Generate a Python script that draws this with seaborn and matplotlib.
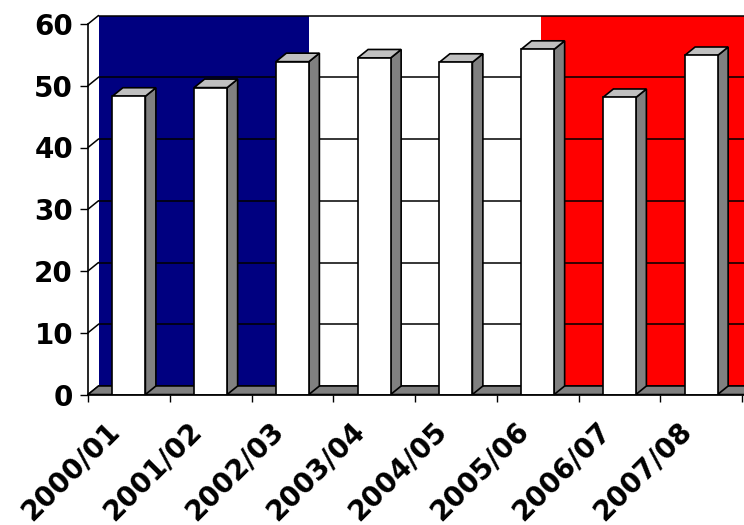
import numpy as np
import pandas as pd
import matplotlib
matplotlib.use("Agg")
import matplotlib.pyplot as plt
import seaborn as sns
from matplotlib.patches import Polygon, Rectangle
from matplotlib.transforms import ScaledTranslation

# ---- data ----
seasons = ["2000/01", "2001/02", "2002/03", "2003/04", "2004/05", "2005/06", "2006/07", "2007/08"]
values = [48.3, 49.7, 53.9, 54.5, 53.8, 55.9, 48.1, 54.9]
y_ticks = [0, 10, 20, 30, 40, 50, 60]

sns.set_theme(style="white")
plt.rcParams['font.family'] = ['DejaVu Sans']
plt.rcParams['font.weight'] = 'bold'
plt.rcParams['text.color'] = 'black'
plt.rcParams['xtick.color'] = 'black'
plt.rcParams['ytick.color'] = 'black'

W, H, DPI = 744, 525, 100
fig = plt.figure(figsize=(W / DPI, H / DPI), dpi=DPI)
fig.patch.set_facecolor("white")
left_px, right_px, bottom_px, top_px = 88, 744, 394.5, 24
ax = fig.add_axes([left_px / W, 1 - bottom_px / H,
                   (right_px - left_px) / W, (bottom_px - top_px) / H])
ax.patch.set_visible(False)

df = pd.DataFrame({"season": seasons, "value": values})
sns.barplot(data=df, x="season", y="value", color="white", edgecolor="black",
            linewidth=1.2, width=0.404, saturation=1, ax=ax, zorder=5)

cat_px = 81.75
xrange_ = (right_px - left_px) / cat_px
xmin, xmax = -0.5, -0.5 + xrange_
ax.set_xlim(xmin, xmax)
ax.set_ylim(0, 60)

# depth offset of the pseudo-3D box (pixels -> data units)
DX_PX, DY_PX = 10.5, 8.5
ddx = DX_PX / cat_px
ddy = DY_PX * 60 / (bottom_px - top_px)
far = xmax + 2

# back wall: French flag
split1 = -0.5 + (309 - left_px) / cat_px - ddx
split2 = -0.5 + (541 - left_px) / cat_px - ddx
for x0, x1, c in [(xmin, split1, "#000080"), (split1, split2, "#ffffff"), (split2, far, "#ff0000")]:
    ax.add_patch(Rectangle((x0 + ddx, ddy), x1 - x0, 60, facecolor=c, edgecolor="none",
                           zorder=1, clip_on=False))
# back-wall gridlines and side-wall diagonals
for v in y_ticks:
    ax.plot([xmin + ddx, far], [v + ddy, v + ddy], color="black", lw=1.1, zorder=2, clip_on=False)
    ax.plot([xmin, xmin + ddx], [v, v + ddy], color="black", lw=1.1, zorder=2, clip_on=False)

# floor
ax.add_patch(Polygon([(xmin, 0), (far, 0), (far + ddx, ddy), (xmin + ddx, ddy)],
                     closed=True, facecolor="#808080", edgecolor="black", lw=1.1,
                     zorder=3, clip_on=False))

# side and top faces of each seaborn bar
for p in list(ax.patches):
    if p.get_zorder() != 5:
        continue
    x0, w, h = p.get_x(), p.get_width(), p.get_height()
    side = [(x0 + w, 0), (x0 + w + ddx, ddy), (x0 + w + ddx, h + ddy), (x0 + w, h)]
    top = [(x0, h), (x0 + w, h), (x0 + w + ddx, h + ddy), (x0 + ddx, h + ddy)]
    ax.add_patch(Polygon(side, closed=True, facecolor="#808080", edgecolor="black",
                         lw=1.2, zorder=4, clip_on=False))
    ax.add_patch(Polygon(top, closed=True, facecolor="#c0c0c0", edgecolor="black",
                         lw=1.2, zorder=4, clip_on=False))

# spines
for s in ["top", "right"]:
    ax.spines[s].set_visible(False)
for s in ["left", "bottom"]:
    ax.spines[s].set_visible(True)
    ax.spines[s].set_color("black")
    ax.spines[s].set_linewidth(1.2)
    ax.spines[s].set_zorder(6)

ax.set_yticks(y_ticks)
ax.set_yticklabels([str(v) for v in y_ticks], fontsize=20, fontweight="bold", color="black")
ax.tick_params(axis="y", left=True, length=5.8, width=1, color="black", pad=5, direction="out")

# x: ticks at category boundaries, rotated labels under each category
ax.set_xticks(np.arange(-0.5, len(seasons) + 0.5, 1))
ax.set_xticklabels([])
ax.tick_params(axis="x", which="major", bottom=True, length=5, width=1, color="black",
               direction="out")
lab_off = ScaledTranslation(-23 / DPI, -22 / DPI, fig.dpi_scale_trans)
for i, s in enumerate(seasons):
    ax.text(i, 0, s, transform=ax.get_xaxis_transform() + lab_off, rotation=45,
            ha="right", va="top", rotation_mode="anchor", fontsize=20,
            fontweight="bold", color="black", clip_on=False)
ax.set_xlabel("")
ax.set_ylabel("")
ax.grid(False)

fig.savefig("out.png", dpi=DPI, facecolor="white")
